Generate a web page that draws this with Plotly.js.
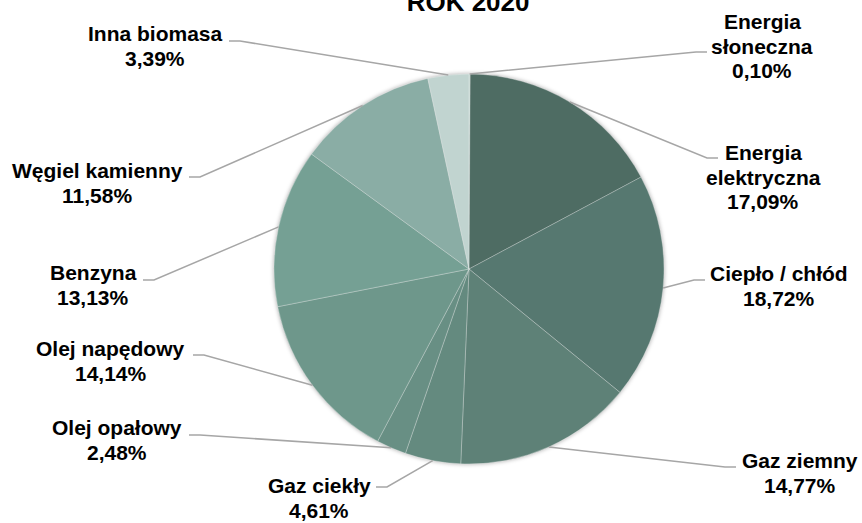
<!DOCTYPE html>
<html><head><meta charset="utf-8">
<script src="https://cdn.plot.ly/plotly-3.0.1.min.js"></script>
<style>
html,body{margin:0;padding:0;background:#fff;}
#chart{width:862px;height:523px;}
.pielayer .trace{filter:drop-shadow(0 0 2px rgba(0,0,0,0.35));}
</style>
</head><body>
<div id="chart"></div>
<script>
const categories = ["Energia słoneczna","Energia elektryczna","Ciepło / chłód","Gaz ziemny","Gaz ciekły","Olej opałowy","Olej napędowy","Benzyna","Węgiel kamienny","Inna biomasa"];
const labelLines = [["Energia","słoneczna"],["Energia","elektryczna"],["Ciepło / chłód"],["Gaz ziemny"],["Gaz ciekły"],["Olej opałowy"],["Olej napędowy"],["Benzyna"],["Węgiel kamienny"],["Inna biomasa"]];
const values = [0.10,17.09,18.72,14.77,4.61,2.48,14.14,13.13,11.58,3.39];
const colors = ["#B3CAC4","#4E6C63","#567870","#5E8177","#648A7F","#688F84","#6E978B","#75A094","#8AADA5","#C1D4D0"];
const titleText = "ROK 2020";

const W = 862, H = 523;
const CX = 469, CY = 269, R = 195;
const LINE = 24.5;
// label layout: center of text block, leader start, stub direction
const labelPos = [
  {x:762, y:46,  sx:707, sy:52,  d:-1},
  {x:763, y:177, sx:718, sy:158, d:-1},
  {x:779, y:286, sx:705, sy:280, d:-1},
  {x:800, y:473, sx:736, sy:467, d:-1},
  {x:319, y:498, sx:376, sy:487, d:1},
  {x:117, y:440, sx:189, sy:435, d:1},
  {x:111, y:361, sx:193, sy:355, d:1},
  {x:93,  y:285, sx:143, sy:280, d:1},
  {x:97,  y:183, sx:189, sy:177, d:1},
  {x:155, y:46,  sx:229, sy:41,  d:1}
];
const px = x => x / W;
const py = y => 1 - y / H;
const FONT = {family:'Liberation Sans, Arial, sans-serif', size:21, color:'#000'};

const total = values.reduce((a,b)=>a+b,0);
let cum = 0;
const annotations = [];
const shapes = [];
values.forEach((v,i)=>{
  const mid = (cum + v/2) / total * 2 * Math.PI;
  cum += v;
  const ex = CX + R * Math.sin(mid);
  const ey = CY - R * Math.cos(mid);
  const L = labelPos[i];
  const stubX = L.sx + L.d * 11;
  shapes.push({type:'path', xref:'paper', yref:'paper',
    path:`M ${px(L.sx)} ${py(L.sy)} L ${px(stubX)} ${py(L.sy)} L ${px(ex)} ${py(ey)}`,
    line:{color:'#A6A6A6', width:1.5}});
  const lines = labelLines[i].concat([v.toFixed(2).replace('.', ',') + '%']);
  const y0 = L.y - (lines.length - 1) * LINE / 2;
  lines.forEach((t,k)=>{
    annotations.push({xref:'paper', yref:'paper', x:px(L.x), y:py(y0 + k*LINE),
      xanchor:'center', yanchor:'middle', showarrow:false,
      text:'<b>' + t + '</b>', font:FONT});
  });
});

const data = [{
  type:'pie', labels:categories, values:values, sort:false, direction:'clockwise', rotation:0,
  marker:{colors:colors, line:{color:'rgba(255,255,255,0.45)', width:0.6}},
  textinfo:'none', hoverinfo:'label+percent',
  domain:{x:[(CX-R)/W,(CX+R)/W], y:[(H-CY-R)/H,(H-CY+R)/H]}
}];
const layout = {
  width:W, height:H, margin:{l:0,r:0,t:0,b:0}, showlegend:false,
  paper_bgcolor:'#fff', plot_bgcolor:'#fff',
  title:{text:'<b>'+titleText+'</b>', x:0.543, xanchor:'center', y:0.996, yref:'container', yanchor:'middle',
    font:{family:'Liberation Sans, Arial, sans-serif', size:26, color:'#000'}},
  shapes:shapes, annotations:annotations
};
Plotly.newPlot('chart', data, layout, {displayModeBar:false, staticPlot:true});
</script>
</body></html>
